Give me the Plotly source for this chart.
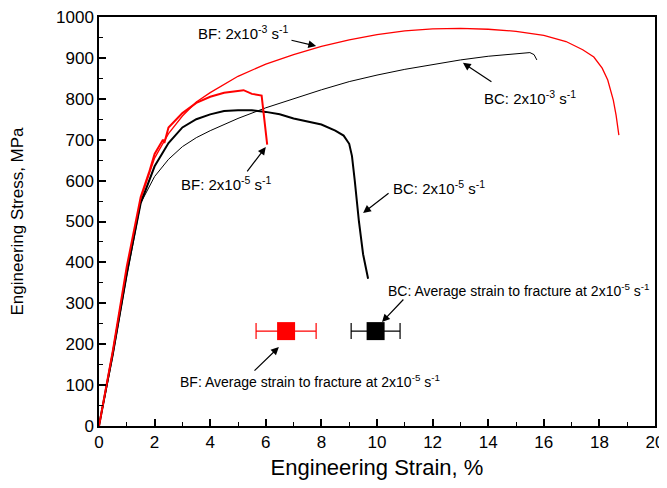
import plotly.graph_objects as go

# BF 2x10^-3 s^-1 (thin red)
bf3_x = [0, 0.5, 1.0, 1.5, 2.0, 2.5, 3.0, 3.5, 4.0, 5.0, 6.0, 7.0, 8.0, 9.0, 10.0, 11.0, 12.0, 13.0, 14.0, 15.0, 16.0, 16.8, 17.4, 17.8, 18.1, 18.3, 18.5, 18.6, 18.7]
bf3_y = [0, 180, 385, 555, 655, 715, 758, 792, 815, 855, 885, 908, 928, 944, 957, 966, 971, 972, 970, 965, 955, 940, 920, 902, 875, 846, 797, 760, 711]

# BF 2x10^-5 s^-1 (thick red)
bf5_x = [0, 0.5, 1.0, 1.5, 1.8, 2.0, 2.3, 2.35, 2.5, 3.0, 3.5, 4.0, 4.5, 5.0, 5.2, 5.5, 5.85, 6.05]
bf5_y = [0, 185, 390, 560, 620, 665, 700, 692, 730, 765, 790, 805, 815, 820, 821, 812, 808, 688]

# BC 2x10^-3 s^-1 (thin black)
bc3_x = [0, 0.5, 1.0, 1.5, 2.0, 2.5, 3.0, 3.5, 4.0, 5.0, 6.0, 7.0, 8.0, 9.0, 10.0, 11.0, 12.0, 13.0, 14.0, 15.0, 15.5, 15.65, 15.75]
bc3_y = [0, 170, 365, 545, 610, 652, 683, 705, 722, 752, 778, 800, 822, 842, 858, 872, 884, 895, 904, 911, 913, 908, 895]

# BC 2x10^-5 s^-1 (thick black)
bc5_x = [0, 0.5, 1.0, 1.5, 2.0, 2.5, 3.0, 3.5, 4.0, 4.5, 5.0, 5.5, 6.0, 6.5, 7.0, 7.5, 8.0, 8.5, 8.8, 9.0, 9.1, 9.2, 9.35, 9.5, 9.68]
bc5_y = [0, 180, 375, 545, 635, 692, 730, 750, 762, 770, 772, 772, 768, 762, 752, 744, 737, 722, 710, 690, 660, 600, 500, 420, 360]

# Average strain to fracture at 2x10^-5 s^-1
avg_x = [6.73, 9.95]
avg_y = [232, 232]
avg_err = [1.08, 0.88]

font = "Arial, Liberation Sans, sans-serif"

fig = go.Figure()
fig.add_trace(go.Scatter(x=bc3_x, y=bc3_y, mode="lines", line=dict(color="black", width=1)))
fig.add_trace(go.Scatter(x=bf3_x, y=bf3_y, mode="lines", line=dict(color="red", width=1.3)))
fig.add_trace(go.Scatter(x=bc5_x, y=bc5_y, mode="lines", line=dict(color="black", width=2)))
fig.add_trace(go.Scatter(x=bf5_x, y=bf5_y, mode="lines", line=dict(color="red", width=2)))
fig.add_trace(go.Scatter(x=[avg_x[0]], y=[avg_y[0]], mode="markers",
                         marker=dict(symbol="square", size=18, color="red"),
                         error_x=dict(type="data", array=[avg_err[0]], color="red", thickness=1.2, width=8)))
fig.add_trace(go.Scatter(x=[avg_x[1]], y=[avg_y[1]], mode="markers",
                         marker=dict(symbol="square", size=18, color="black"),
                         error_x=dict(type="data", array=[avg_err[1]], color="black", thickness=1.2, width=8)))

ann = []
def arrow(hx, hy, tx, ty):
    ann.append(dict(x=hx, y=hy, ax=tx, ay=ty, xref="x", yref="y", axref="x", ayref="y",
                    text="", showarrow=True, arrowhead=2, arrowsize=1.3, arrowwidth=1.2, arrowcolor="black"))
def label(x, y, t, size=15):
    ann.append(dict(x=x, y=y, xref="x", yref="y", text=t, showarrow=False,
                    font=dict(family=font, size=size, color="black")))

arrow(7.81, 929, 6.87, 944)
label(5.18, 961, "BF: 2x10<sup>-3</sup> s<sup>-1</sup>")
arrow(6.0, 682, 5.29, 619)
label(4.57, 594, "BF: 2x10<sup>-5</sup> s<sup>-1</sup>")
arrow(13.09, 888, 14.17, 839)
label(15.5, 802, "BC: 2x10<sup>-3</sup> s<sup>-1</sup>")
arrow(9.5, 521, 10.47, 572)
label(12.23, 582, "BC: 2x10<sup>-5</sup> s<sup>-1</sup>")
arrow(10.18, 254, 11.0, 313)
label(15.1, 333, "BC: Average strain to fracture at 2x10<sup>-5</sup> s<sup>-1</sup>", 14)
arrow(6.47, 193, 5.54, 132)
label(7.59, 110, "BF: Average strain to fracture at 2x10<sup>-5</sup> s<sup>-1</sup>", 14)

axis_common = dict(showline=True, linecolor="black", linewidth=1.5, mirror=True,
                   ticks="inside", ticklen=7, tickwidth=1.5, tickcolor="black",
                   showgrid=False, zeroline=False, automargin=False,
                   ticklabeloverflow="allow",
                   tickfont=dict(family=font, size=17, color="black"))

fig.update_layout(
    width=659, height=472,
    margin=dict(l=91, r=12, t=9, b=54),
    paper_bgcolor="white", plot_bgcolor="white",
    showlegend=False,
    annotations=ann,
    xaxis=dict(range=[0, 20], tickvals=list(range(0, 21, 2)),
               title=dict(text="Engineering Strain, %", font=dict(family=font, size=22, color="black"), standoff=13),
               minor=dict(ticks="inside", ticklen=4, tickwidth=1.2, tickcolor="black", dtick=1),
               **axis_common),
    yaxis=dict(range=[0, 1000], tickvals=list(range(0, 1001, 100)),
               title=dict(text="Engineering Stress, MPa", font=dict(family=font, size=17, color="black"), standoff=39),
               minor=dict(ticks="inside", ticklen=4, tickwidth=1.2, tickcolor="black", dtick=50),
               **axis_common),
)

fig.write_html("out.html")
